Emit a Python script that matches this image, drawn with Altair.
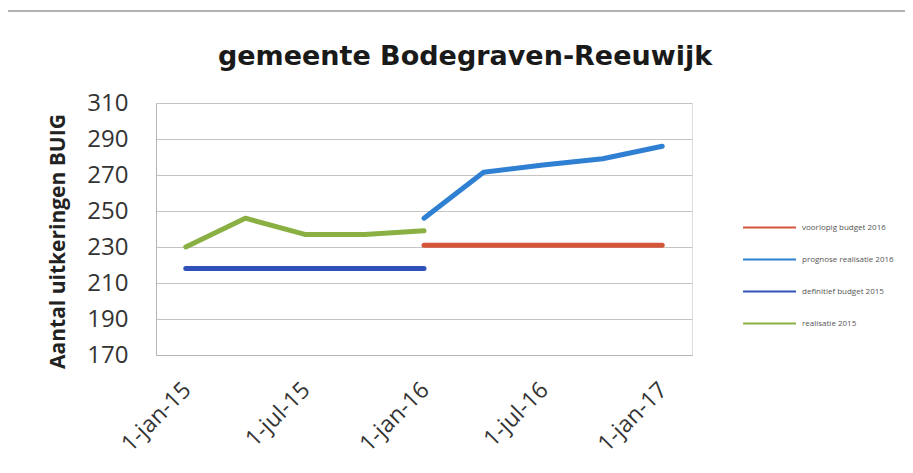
import altair as alt
import pandas as pd

# categories (quarterly) and tick labels shown
dates = ["1-jan-15", "1-apr-15", "1-jul-15", "1-okt-15", "1-jan-16",
         "1-apr-16", "1-jul-16", "1-okt-16", "1-jan-17"]
shown_labels = ["1-jan-15", "1-jul-15", "1-jan-16", "1-jul-16", "1-jan-17"]

chart_title = ["gemeente Bodegraven-Reeuwijk"]

series_names = ["voorlopig budget 2016", "prognose realisatie 2016",
                "definitief budget 2015", "realisatie 2015"]
series_colors = ["#D5553A", "#2F80D2", "#3052B8", "#8AB043"]

voorlopig_budget_2016 = [None, None, None, None, 231, 231, 231, 231, 231]
prognose_realisatie_2016 = [None, None, None, None, 246, 271.5, 275.5, 279, 286]
definitief_budget_2015 = [218, 218, 218, 218, 218, None, None, None, None]
realisatie_2015 = [230, 246, 237, 237, 239, None, None, None, None]

y_ticks = [170, 190, 210, 230, 250, 270, 290, 310]

rows = []
for name, vals in zip(series_names, [voorlopig_budget_2016, prognose_realisatie_2016,
                                     definitief_budget_2015, realisatie_2015]):
    for i, (d, v) in enumerate(zip(dates, vals)):
        if v is not None:
            rows.append({"datum": d, "idx": i, "serie": name, "waarde": v})
df = pd.DataFrame(rows)

x_enc = alt.X("datum:O", sort=dates,
              scale=alt.Scale(type="point", domain=dates, padding=0.5),
              axis=alt.Axis(values=shown_labels, title=None, labelAngle=-45,
                            labelAlign="right", labelBaseline="middle",
                            labelPadding=31, labelOffset=1, ticks=False,
                            labelFont="Open Sans", labelFontSize=23,
                            labelColor="#333333", domainColor="#b5b5b5",
                            grid=False))
y_enc = alt.Y("waarde:Q",
              scale=alt.Scale(domain=[170, 310], nice=False, zero=False),
              axis=alt.Axis(values=y_ticks, title="Aantal uitkeringen BUIG",
                            titleFont="Open Sans", titleFontSize=21,
                            titleFontWeight="bold", titleColor="#222222",
                            titleX=-98, titleY=138, titleBaseline="middle",
                            titleAngle=-90, titleAlign="center",
                            labelFont="Open Sans", labelFontSize=24,
                            labelColor="#333333", labelPadding=28, ticks=False,
                            domainColor="#b5b5b5", gridColor="#c4c4c4",
                            gridWidth=1))

lines = alt.Chart(df).mark_line(strokeWidth=5, strokeCap="round",
                                strokeJoin="round").encode(
    x=x_enc,
    y=y_enc,
    color=alt.Color("serie:N",
                    scale=alt.Scale(domain=series_names, range=series_colors),
                    legend=alt.Legend(title=None, orient="none",
                                      legendX=586, legendY=97,
                                      symbolType="stroke", symbolSize=2800,
                                      symbolStrokeWidth=2, rowPadding=-22,
                                      labelFont="Open Sans", labelFontSize=8,
                                      labelColor="#555555", labelOffset=5)),
    detail="serie:N",
)

top_rule = alt.Chart(pd.DataFrame({"a": [0]})).mark_rule(
    color="#9a9a9a", strokeWidth=1.5).encode(
    x=alt.value(-151), x2=alt.value(760), y=alt.value(-92))

title_text = alt.Chart(pd.DataFrame({"t": chart_title})).mark_text(
    font="DejaVu Sans", fontSize=27, fontWeight="bold", color="#1a1a1a",
    align="center", baseline="alphabetic").encode(
    text="t:N", x=alt.value(309), y=alt.value(-38))

chart = alt.layer(lines, top_rule, title_text).properties(
    width=536, height=252,
    autosize=alt.AutoSizeParams(type="none"),
    padding={"left": 148, "top": 95, "right": 213, "bottom": 110},
).configure_view(stroke=None).configure(background="white")

chart.save("out.html", embed_options={"renderer": "svg", "actions": False})
